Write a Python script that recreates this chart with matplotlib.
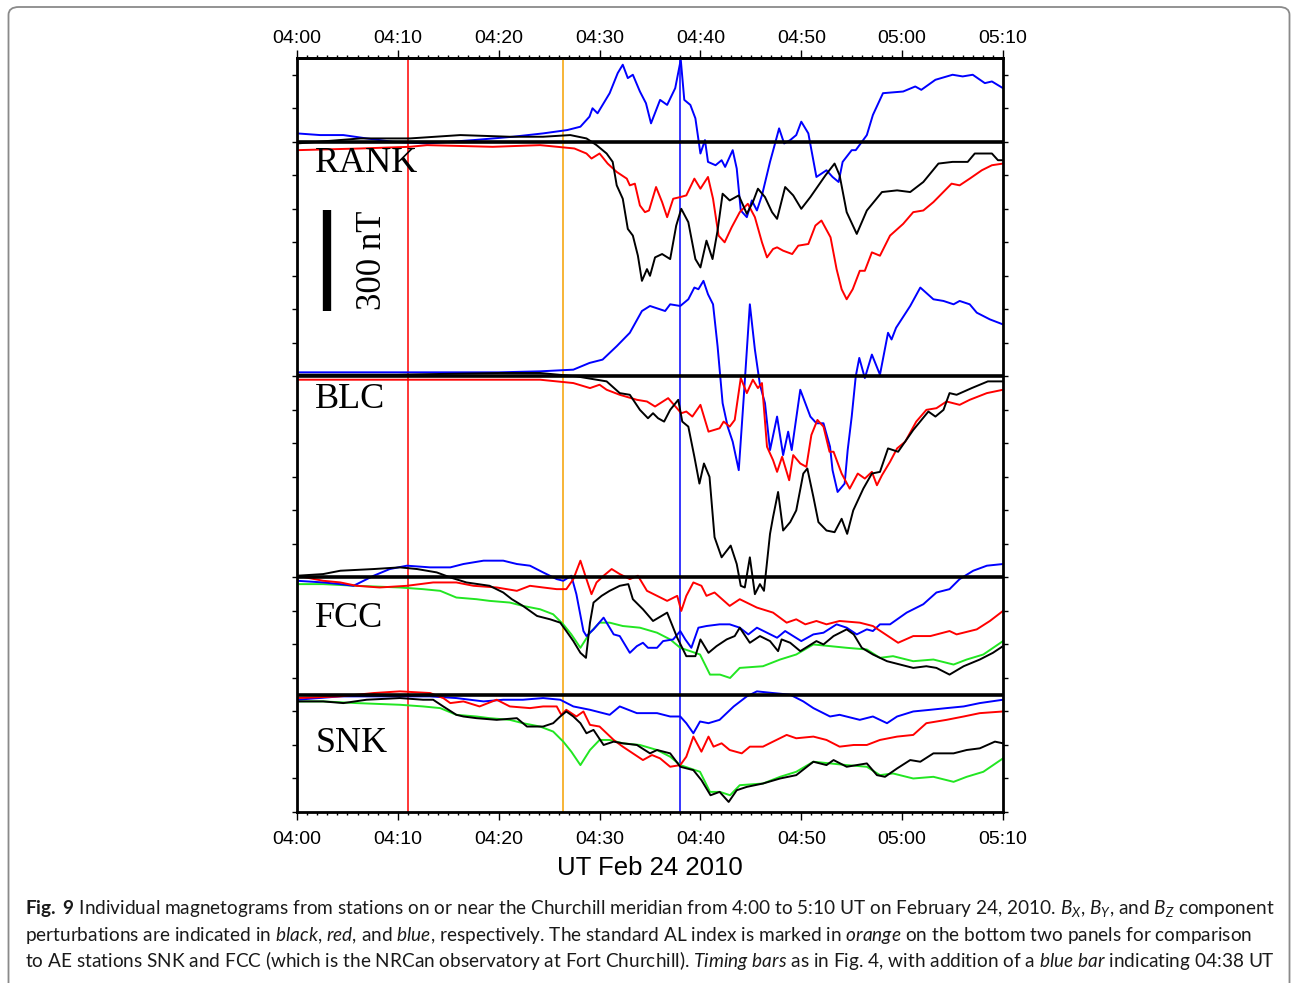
import matplotlib
matplotlib.use("Agg")
import matplotlib.pyplot as plt
from matplotlib.patches import FancyBboxPatch
from matplotlib.ticker import MultipleLocator, FixedLocator, FixedFormatter

# time axis: minutes after 04:00 UT
time_ticks = [0, 10, 20, 30, 40, 50, 60, 70]
time_labels = ["04:00", "04:10", "04:20", "04:30", "04:40", "04:50", "05:00", "05:10"]

stations = ["RANK", "BLC", "FCC", "SNK"]
station_offsets = [0, -700, -1300, -1650]   # nT, where each panel's zero line sits

timing_bars = [11.0, 26.4, 38.0]  # minutes after 04:00

# ---- RANK (nT perturbation vs minutes) ----
rank_bx_t = [0, 6.3, 11.2, 16.2, 21.1, 24.4, 27.1, 28.7, 29.7, 30.7, 31.3, 31.7, 32.3, 32.8, 33.3,
             33.8, 34.2, 34.7, 35.0, 35.5, 36.2, 37.0, 37.6, 38.1, 38.8, 39.5, 40.0, 40.6, 41.2,
             41.7, 42.2, 42.9, 43.8, 44.6, 45.2, 45.7, 46.4, 47.1, 47.6, 48.4, 49.2, 50.0, 50.9,
             52.4, 53.3, 53.8, 54.5, 55.5, 56.5, 58.0, 59.5, 60.8, 62.1, 63.6, 65.0, 66.5, 67.2,
             68.9, 69.5, 70]
rank_bx = [-5, 10, 10, 20, 15, 15, 20, 10, -10, -35, -60, -130, -170, -260, -280,
           -340, -415, -380, -400, -345, -335, -350, -250, -200, -240, -350, -375, -295, -350,
           -265, -155, -175, -160, -215, -180, -140, -165, -210, -230, -135, -160, -200, -165,
           -100, -65, -100, -210, -275, -205, -150, -145, -150, -120, -65, -60, -60, -35,
           -35, -55, -55]

rank_by_t = [0, 6.3, 11.2, 12.9, 19.4, 24.1, 27.5, 28.7, 29.2, 30.0, 30.8, 31.7, 32.7, 33.0, 33.5,
             34.0, 34.5, 34.9, 35.6, 36.2, 36.7, 37.3, 38.0, 38.6, 39.4, 40.0, 40.75, 41.25, 41.8,
             42.4, 43.1, 43.9, 44.7, 45.4, 46.1, 46.6, 47.2, 47.6, 48.2, 49.1, 49.7, 50.7, 51.4,
             52.0, 52.9, 53.5, 54.0, 54.5, 55.1, 55.8, 56.3, 57.0, 57.8, 58.8, 60.1, 61.1, 62.1,
             63.1, 64.9, 65.7, 66.7, 67.9, 68.9, 70]
rank_by = [-25, -20, -15, -10, -15, -10, -20, -35, -50, -35, -65, -90, -110, -130, -125,
           -190, -210, -205, -135, -180, -225, -170, -165, -160, -110, -140, -105, -170, -280,
           -300, -255, -210, -185, -225, -300, -345, -320, -315, -325, -335, -310, -305, -250,
           -235, -285, -380, -440, -470, -440, -385, -385, -330, -340, -280, -245, -210, -205,
           -180, -125, -130, -110, -85, -70, -65]

rank_bz_t = [0, 2.3, 4.6, 6.9, 9.5, 12.9, 17.5, 21.4, 24.4, 26.8, 28.1, 29.0, 29.3, 29.8, 31.0,
             31.8, 32.3, 32.8, 33.3, 34.0, 34.6, 35.1, 36.0, 36.7, 37.5, 38.05, 38.4, 39.0, 39.5,
             40.0, 40.45, 40.75, 41.5, 42.1, 42.45, 43.2, 43.6, 44.0, 44.6, 45.1, 45.6, 46.1,
             46.9, 47.4, 47.8, 48.3, 48.9, 49.5, 50.0, 50.7, 51.5, 52.5, 53.1, 53.7, 54.1, 55.0,
             55.4, 56.5, 57.1, 58.1, 60.1, 61.3, 61.9, 63.3, 65.0, 66.0, 67.0, 68.2, 68.9, 70]
rank_bz = [25, 20, 20, 10, 0, -5, 5, 15, 25, 35, 45, 75, 100, 85, 145,
           205, 230, 190, 200, 150, 115, 55, 125, 110, 160, 245, 125, 110, 70,
           -35, 5, -60, -70, -55, -75, -25, -80, -205, -225, -175, -205, -160,
           -60, -5, 40, -5, 5, 20, 60, 25, -105, -85, -105, -120, -60, -25,
           -25, 20, 80, 145, 150, 165, 155, 185, 200, 195, 200, 175, 180, 160]

# ---- BLC ----
blc_bx_t = [0, 10, 20, 24.1, 27.7, 30.7, 32.0, 33.0, 34.0, 34.8, 35.3, 35.8, 36.4, 37.0, 37.8,
            38.2, 38.8, 39.4, 39.9, 40.35, 40.9, 41.4, 42.1, 43.0, 43.6, 44.0, 44.4, 44.9, 45.4,
            45.9, 46.3, 46.9, 47.2, 47.7, 48.2, 48.9, 49.5, 50.2, 50.6, 51.2, 51.7, 52.5, 53.3,
            54.0, 54.55, 55.15, 56.15, 57.0, 57.8, 58.6, 59.6, 61.1, 62.6, 63.3, 64.1, 64.7,
            65.4, 66.9, 68.5, 70]
blc_bx = [5, 5, 10, 10, 0, -15, -50, -55, -100, -125, -110, -125, -135, -100, -70,
          -135, -150, -240, -320, -260, -300, -480, -540, -505, -560, -625, -630, -540, -650,
          -620, -640, -470, -420, -345, -460, -435, -400, -290, -275, -360, -435, -460, -465,
          -425, -470, -400, -335, -290, -285, -215, -225, -160, -105, -120, -100, -50,
          -55, -35, -15, -15]

blc_by_t = [0, 10, 20, 24.1, 27.4, 29.05, 30.0, 30.7, 32.0, 33.7, 34.7, 35.5, 36.8, 38.1, 38.6,
            39.2, 40.0, 40.8, 41.9, 42.3, 42.9, 43.4, 44.0, 44.6, 45.2, 45.7, 46.1, 46.6, 47.2,
            47.6, 48.1, 48.8, 49.2, 49.9, 50.5, 51.0, 51.6, 52.2, 52.8, 53.2, 54.0, 54.8, 55.6,
            56.3, 57.0, 57.5, 58.0, 58.8, 59.5, 60.3, 61.4, 62.4, 63.4, 64.4, 65.7, 66.7, 68.4, 70]
blc_by = [-10, -10, -10, -10, -20, -35, -25, -40, -55, -70, -75, -90, -65, -110, -105,
          -120, -85, -165, -155, -135, -150, -130, -5, -50, -10, -35, -20, -210, -250,
          -285, -240, -310, -235, -260, -270, -175, -130, -150, -225, -225, -290, -335, -290,
          -305, -285, -325, -295, -255, -215, -195, -135, -100, -95, -75, -85, -70, -50, -40]

blc_bz_t = [0, 10, 20, 24.1, 27.4, 29.0, 30.3, 31.7, 33.0, 34.2, 35.0, 36.5, 37.0, 38.0, 38.8,
            39.4, 39.8, 40.3, 40.75, 41.25, 41.7, 42.2, 42.7, 43.2, 43.8, 44.3, 44.9, 45.4, 45.9,
            46.4, 46.9, 47.6, 48.2, 48.7, 49.05, 49.9, 50.9, 51.5, 52.2, 52.85, 53.1, 53.6, 54.3,
            54.6, 55.0, 55.4, 55.75, 56.3, 57.0, 57.8, 58.6, 58.95, 59.4, 60.8, 61.8, 63.1, 64.1,
            65.1, 65.7, 66.7, 67.4, 68.7, 70]
blc_bz = [12, 12, 12, 15, 20, 40, 50, 90, 130, 195, 210, 195, 215, 210, 230,
          265, 260, 285, 245, 215, 90, -80, -150, -195, -280, -60, 215, 80, -25,
          -80, -220, -120, -235, -165, -220, -40, -120, -140, -140, -210, -280, -345, -320,
          -220, -120, 0, 55, -5, 65, 5, 130, 110, 145, 210, 265, 230, 225,
          215, 225, 215, 190, 170, 155]

# ---- FCC ----
fcc_bx_t = [0, 2.6, 4.3, 7.6, 10.2, 11.9, 13.85, 15.2, 16.8, 19.1, 20.45, 21.3, 22.4, 23.8, 25.1,
            26.1, 26.7, 27.4, 28.1, 28.65, 29.05, 29.4, 30.2, 31.0, 32.0, 32.85, 33.3, 34.3, 35.3,
            36.7, 37.7, 38.6, 39.5, 40.0, 40.8, 41.6, 42.6, 43.4, 43.9, 44.9, 45.9, 46.9, 47.7,
            48.05, 48.9, 49.9, 50.7, 51.5, 52.2, 53.2, 54.5, 55.2, 56.0, 57.1, 58.5, 59.8, 61.1,
            62.4, 63.4, 64.7, 66.1, 67.7, 69.0, 70]
fcc_bx = [5, 10, 20, 25, 30, 25, 15, 0, -15, -25, -45, -65, -85, -115, -125,
          -135, -160, -190, -225, -240, -135, -75, -55, -40, -25, -20, -65, -95, -130,
          -105, -180, -235, -235, -185, -225, -205, -185, -175, -150, -195, -175, -190, -220,
          -185, -195, -220, -205, -190, -200, -175, -155, -170, -210, -230, -250, -260, -270,
          -265, -270, -290, -265, -245, -225, -205]

fcc_by_t = [0, 2.6, 4.3, 5.9, 8.2, 10.9, 13.5, 15.8, 17.5, 19.8, 21.8, 23.1, 24.4, 25.75, 26.7,
            27.4, 28.1, 28.7, 29.2, 29.7, 30.4, 31.2, 32.0, 33.0, 33.8, 34.7, 35.7, 36.7, 37.7,
            38.1, 38.6, 39.3, 40.1, 40.6, 41.4, 42.9, 43.9, 45.6, 47.2, 48.55, 49.5, 50.4, 51.5,
            52.5, 53.8, 55.8, 57.1, 58.1, 59.6, 61.1, 62.8, 64.7, 65.4, 67.4, 68.7, 70]
fcc_by = [5, -10, -15, -25, -30, -25, -15, -15, -25, -30, -40, -25, -30, -35, -35,
          -5, 50, -5, -50, -15, 5, 25, 10, -5, 5, -40, -55, -70, -55,
          -100, -55, -15, -25, -55, -45, -85, -65, -90, -105, -135, -125, -140, -130,
          -140, -130, -135, -145, -165, -195, -175, -175, -160, -170, -155, -130, -100]

fcc_bz_t = [0, 2.6, 4.3, 5.6, 7.6, 9.2, 10.9, 13.2, 15.2, 16.5, 18.5, 20.45, 21.8, 23.1, 24.4,
            25.75, 26.4, 27.2, 27.7, 28.4, 28.7, 29.4, 30.4, 30.9, 31.4, 32.0, 33.0, 33.7, 34.3,
            34.8, 35.7, 36.3, 37.3, 38.0, 38.5, 39.1, 39.8, 40.6, 41.9, 42.9, 43.9, 44.75, 45.6,
            46.6, 47.6, 48.4, 49.2, 50.0, 51.2, 52.2, 53.5, 54.5, 55.5, 56.5, 57.1, 57.8, 58.8,
            60.45, 62.1, 63.4, 64.7, 65.7, 67.05, 68.4, 70]
fcc_bz = [-10, -15, -20, -25, 5, 25, 35, 30, 30, 40, 50, 50, 40, 35, 15,
          -5, -10, 5, -50, -160, -175, -155, -120, -145, -170, -175, -225, -205, -195,
          -210, -210, -190, -185, -160, -185, -210, -150, -145, -140, -140, -150, -170, -150,
          -165, -180, -160, -175, -190, -170, -165, -140, -150, -170, -155, -160, -140, -140,
          -105, -80, -45, -35, -5, 20, 35, 40]

# ---- SNK ----
snk_bx_t = [0, 2.6, 4.6, 6.9, 10.2, 12.5, 13.5, 14.5, 15.8, 16.5, 17.8, 19.8, 21.8, 22.8, 24.4,
            25.4, 26.1, 26.7, 27.4, 28.1, 28.7, 29.4, 30.4, 31.4, 32.3, 33.7, 35.0, 35.7, 37.0,
            38.0, 39.3, 40.1, 41.0, 41.9, 42.8, 43.6, 44.6, 46.2, 47.9, 49.5, 51.2, 52.5, 53.2,
            54.5, 56.5, 57.5, 58.3, 59.5, 60.8, 61.8, 63.1, 65.1, 66.4, 67.7, 69.2, 70]
snk_bx = [-20, -20, -25, -15, -10, -15, -15, -35, -60, -65, -70, -75, -70, -95, -95,
          -85, -65, -50, -65, -85, -115, -105, -150, -140, -145, -150, -175, -165, -175,
          -215, -225, -255, -300, -290, -320, -285, -275, -265, -250, -240, -200, -210, -195,
          -215, -205, -240, -245, -220, -195, -200, -175, -175, -165, -160, -140, -145]

snk_by_t = [0, 4.3, 7.6, 10.2, 13.2, 14.5, 15.2, 16.5, 18.1, 19.8, 21.1, 23.1, 24.4, 25.75, 26.2,
            26.7, 27.7, 28.4, 29.05, 30.0, 30.7, 31.4, 32.3, 33.3, 34.3, 35.2, 36.0, 37.0, 38.0,
            38.6, 39.3, 40.1, 40.8, 41.3, 42.1, 42.9, 44.1, 44.9, 46.2, 47.2, 48.55, 49.5, 51.2,
            52.5, 53.8, 55.2, 56.5, 57.8, 59.5, 61.1, 62.4, 64.4, 66.1, 67.7, 70]
snk_by = [-10, -5, 5, 10, 5, -10, -25, -20, -35, -15, -35, -40, -35, -35, -60,
          -45, -65, -50, -90, -95, -115, -135, -155, -175, -195, -180, -190, -215, -210,
          -185, -125, -170, -125, -155, -145, -165, -175, -155, -155, -140, -120, -130, -125,
          -135, -155, -150, -150, -135, -125, -120, -85, -75, -65, -55, -50]

snk_bz_t = [0, 4.3, 9.2, 13.2, 15.8, 18.5, 20.45, 22.4, 24.4, 26.1, 27.4, 29.05, 31.0, 32.0, 33.7,
            35.7, 37.0, 38.0, 38.6, 39.3, 39.96, 40.8, 41.9, 43.3, 44.6, 45.6, 47.2, 48.9, 50.2,
            51.2, 52.85, 53.8, 55.8, 57.1, 58.5, 59.5, 61.1, 62.8, 64.4, 66.1, 67.7, 70]
snk_bz = [-15, -5, -5, -5, -10, -20, -15, -15, -10, -15, -35, -45, -60, -35, -55,
          -55, -65, -65, -85, -115, -80, -85, -75, -35, -5, 10, 5, 0, -20,
          -40, -65, -60, -75, -65, -85, -65, -50, -45, -40, -35, -25, -15]

# ---- AL index (drawn on FCC and SNK panels) ----
al_t = [0, 2.6, 5.9, 10.2, 12.5, 14.2, 15.8, 17.8, 19.1, 21.1, 22.4, 24.1, 25.4, 26.4, 27.2,
        28.1, 29.05, 30.0, 31.0, 32.3, 34.0, 35.7, 37.0, 38.0, 39.96, 40.95, 41.94, 42.94, 43.9,
        46.2, 47.9, 49.5, 51.2, 52.85, 54.5, 56.5, 57.8, 59.1, 61.1, 63.1, 65.1, 66.4, 68.05, 70]
al = [-20, -20, -25, -30, -35, -40, -60, -65, -70, -75, -85, -95, -110, -140, -170,
      -210, -165, -135, -135, -145, -150, -165, -185, -210, -230, -290, -290, -300, -270,
      -265, -245, -230, -200, -205, -210, -215, -240, -235, -250, -245, -260, -245, -230, -190]

panels = [
    [(rank_bz_t, rank_bz, "#0000ff"), (rank_by_t, rank_by, "#ff0000"), (rank_bx_t, rank_bx, "#000000")],
    [(blc_bz_t, blc_bz, "#0000ff"), (blc_by_t, blc_by, "#ff0000"), (blc_bx_t, blc_bx, "#000000")],
    [(al_t, al, "#22e622"), (fcc_bz_t, fcc_bz, "#0000ff"), (fcc_by_t, fcc_by, "#ff0000"), (fcc_bx_t, fcc_bx, "#000000")],
    [(al_t, al, "#22e622"), (snk_bz_t, snk_bz, "#0000ff"), (snk_by_t, snk_by, "#ff0000"), (snk_bx_t, snk_bx, "#000000")],
]
label_y = [-90, -795, -1447, -1820]

plt.rcParams["mathtext.fontset"] = "custom"
plt.rcParams["mathtext.rm"] = "Lato"
plt.rcParams["mathtext.it"] = "Lato:italic"
plt.rcParams["mathtext.bf"] = "Lato:bold"

W, H = 1291, 983
fig = plt.figure(figsize=(W / 100, H / 100), dpi=100)
ax = fig.add_axes([297 / W, 1 - 812 / H, 706 / W, 754 / H])

bar_colors = ["#ff0000", "#f5a000", "#0000ff"]
for x, c in zip(timing_bars, bar_colors):
    ax.axvline(x, color=c, lw=1.1, zorder=1)

for series, off, name, ly in zip(panels, station_offsets, stations, label_y):
    for t, v, c in series:
        ax.plot(t, [val + off for val in v], color=c, lw=1.4, zorder=2)
    ax.axhline(off, color="black", lw=2.6, zorder=3)
    ax.text(1.8, ly, name, family="Liberation Serif", fontsize=26, va="baseline", ha="left", zorder=4)

# 300 nT scale bar
ax.plot([3.0, 3.0], [-205, -505], color="black", lw=6, solid_capstyle="butt", zorder=4)
ax.text(7.5, -355, "300 nT", family="Liberation Serif", fontsize=25, rotation=90,
        ha="center", va="center", zorder=4)

ax.set_xlim(0, 70)
ax.set_ylim(-2000, 250)
ax.xaxis.set_major_locator(FixedLocator(time_ticks))
ax.xaxis.set_major_formatter(FixedFormatter(time_labels))
ax.xaxis.set_minor_locator(MultipleLocator(1))
ax.yaxis.set_major_locator(MultipleLocator(100))
ax.tick_params(axis="x", which="both", top=False, bottom=True, labelbottom=True,
               direction="out", width=1.0, labelsize=14)
ax.tick_params(axis="x", which="major", length=5.5, pad=8)
ax.tick_params(axis="x", which="minor", length=2.5)
ax.tick_params(axis="y", which="both", left=True, right=True, labelleft=False, direction="out",
               length=3.5, width=1.0)
for lab in ax.get_xticklabels():
    lab.set_family("Liberation Sans")
for sp in ax.spines.values():
    sp.set_linewidth(2.0)
ax.set_xlabel("UT Feb 24 2010", family="Liberation Sans", fontsize=18.5, labelpad=6)

# top time axis with its own label spacing
top = ax.secondary_xaxis("top")
top.xaxis.set_major_locator(FixedLocator(time_ticks))
top.xaxis.set_major_formatter(FixedFormatter(time_labels))
top.xaxis.set_minor_locator(MultipleLocator(1))
top.tick_params(axis="x", which="both", direction="out", width=1.0, labelsize=14)
top.tick_params(axis="x", which="major", length=5.5, pad=2.5)
top.tick_params(axis="x", which="minor", length=2.5)
top.spines["top"].set_linewidth(2.0)
for lab in top.get_xticklabels():
    lab.set_family("Liberation Sans")

# rounded frame around the figure
frame = FancyBboxPatch((8.5 / W, -30 / H), (1281 / W), (1006 / H), transform=fig.transFigure,
                       boxstyle="round,pad=0,rounding_size=0.008", fc="none", ec="#8a8a8a",
                       lw=1.3, clip_on=False)
fig.patches.append(frame)

caption = [
    r"$\bf{Fig.}$ $\bf{9}$ Individual magnetograms from stations on or near the Churchill meridian from 4:00 to 5:10 UT on February 24, 2010. $B_X$, $B_Y$, and $B_Z$ component",
    r"perturbations are indicated in $\it{black}$, $\it{red}$, and $\it{blue}$, respectively. The standard AL index is marked in $\it{orange}$ on the bottom two panels for comparison",
    r"to AE stations SNK and FCC (which is the NRCan observatory at Fort Churchill). $\it{Timing\ bars}$ as in Fig. 4, with addition of a $\it{blue\ bar}$ indicating 04:38 UT",
]
for i, line in enumerate(caption):
    fig.text(25 / W, 1 - (914 + 26.5 * i) / H, line, family="Lato", fontsize=13.7,
             va="baseline", ha="left", color="#1a1a1a")

fig.savefig("out.png", dpi=100)
